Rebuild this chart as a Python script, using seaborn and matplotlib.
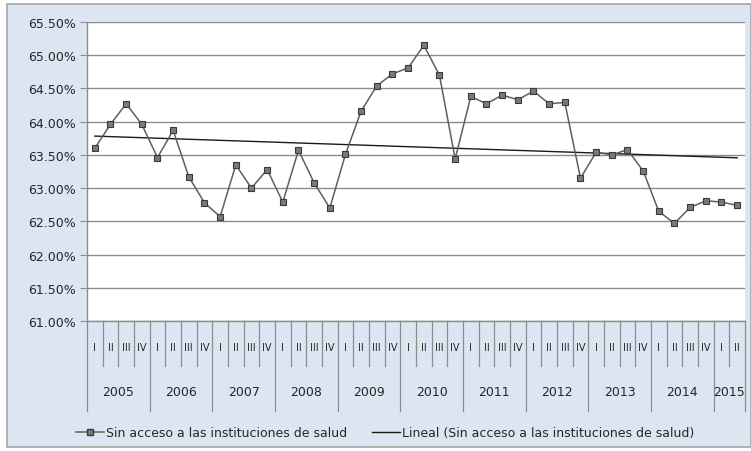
import pandas as pd
import numpy as np
import matplotlib
matplotlib.use("Agg")
import matplotlib.pyplot as plt
import matplotlib.transforms as mtransforms
from matplotlib.lines import Line2D
import seaborn as sns

# data: share without access to health institutions, quarterly 2005-I .. 2015-II
years = ["2005", "2006", "2007", "2008", "2009", "2010", "2011", "2012", "2013", "2014", "2015"]
quarters = ["I", "II", "III", "IV"]
values = [63.60, 63.96, 64.27, 63.96,   # 2005
          63.46, 63.87, 63.17, 62.78,   # 2006
          62.57, 63.35, 63.00, 63.28,   # 2007
          62.79, 63.57, 63.08, 62.70,   # 2008
          63.51, 64.16, 64.54, 64.72,   # 2009
          64.81, 65.15, 64.70, 63.44,   # 2010
          64.38, 64.27, 64.40, 64.33,   # 2011
          64.46, 64.27, 64.29, 63.15,   # 2012
          63.54, 63.50, 63.58, 63.26,   # 2013
          62.65, 62.47, 62.71, 62.81,   # 2014
          62.79, 62.74]                 # 2015 (I, II)
yticks = [61.0, 61.5, 62.0, 62.5, 63.0, 63.5, 64.0, 64.5, 65.0, 65.5]
serie = "Sin acceso a las instituciones de salud"
trend = "Lineal (Sin acceso a las instituciones de salud)"

df = pd.DataFrame({"idx": np.arange(len(values)), "valor": values})
df["trimestre"] = [quarters[i % 4] for i in range(len(values))]

bg = "#dce6f2"
grid_c = "#8c8c8c"
text_c = "#262626"

fig = plt.figure(figsize=(7.51, 4.52), dpi=100, facecolor="white")

# chart area (light blue with gray border, slightly inset like the original)
fig.patches.append(plt.Rectangle((7 / 751, 1 - 448 / 452), 744 / 751, 443 / 452,
                                 transform=fig.transFigure, facecolor=bg,
                                 edgecolor="#a6a6a6", linewidth=1.2, zorder=-10))

ax = fig.add_axes([0.1158, 0.2876, 0.8762, 0.6614])
ax.set_facecolor("white")

ax.set_axisbelow(True)
ax.yaxis.grid(True, color=grid_c, linewidth=1)
ax.set_ylim(61.0, 65.5)
ax.set_xlim(-0.5, len(values) - 0.5)
ax.set_yticks(yticks)
ax.set_yticklabels([f"{v:.2f}%" for v in yticks], fontsize=9, color=text_c)
ax.tick_params(axis="y", length=5, color=grid_c, pad=3)
ax.set_xticks([])

# trend line (linear fit)
sns.regplot(data=df, x="idx", y="valor", ax=ax, scatter=False, ci=None, truncate=True,
            line_kws={"color": "#1a1a1a", "linewidth": 1.0})

# series
sns.lineplot(data=df, x="idx", y="valor", ax=ax, color="#5f5f5f", linewidth=1.1,
             marker="s", markersize=5, markerfacecolor="#7a7a7a", markeredgecolor="#3a3a3a",
             markeredgewidth=0.8)
ax.set_xlabel("")
ax.set_ylabel("")

for s in ["top", "right"]:
    ax.spines[s].set_visible(False)
for s in ["left", "bottom"]:
    ax.spines[s].set_color(grid_c)
    ax.spines[s].set_linewidth(1)

# multi-level category axis
trans = mtransforms.blended_transform_factory(ax.transData, ax.transAxes)
n = len(values)
for i in range(n):
    ax.text(i, -0.088, df["trimestre"][i], transform=trans, ha="center", va="center",
            fontsize=7, color=text_c, clip_on=False)
for b in range(n + 1):
    x = b - 0.5
    if b % 4 == 0 or b == n:
        ax.plot([x, x], [0, -0.30], transform=trans, color=grid_c, linewidth=0.9, clip_on=False)
    else:
        ax.plot([x, x], [0, -0.15], transform=trans, color=grid_c, linewidth=0.9, clip_on=False)
for k, y in enumerate(years):
    start = 4 * k
    end = min(4 * k + 3, n - 1)
    ax.text((start + end) / 2, -0.237, y, transform=trans, ha="center", va="center",
            fontsize=9, color=text_c, clip_on=False)

handles = [Line2D([], [], color="#5f5f5f", linewidth=1.1, marker="s", markersize=5,
                  markerfacecolor="#7a7a7a", markeredgecolor="#3a3a3a"),
           Line2D([], [], color="#1a1a1a", linewidth=1.0)]
leg = fig.legend(handles, [serie, trend], loc="center", bbox_to_anchor=(0.513, 0.040),
                 ncol=2, frameon=False, fontsize=9, handlelength=2.2, handletextpad=0.2,
                 columnspacing=2.0)
for t in leg.get_texts():
    t.set_color(text_c)

fig.savefig("out.png", dpi=100, facecolor="white")
